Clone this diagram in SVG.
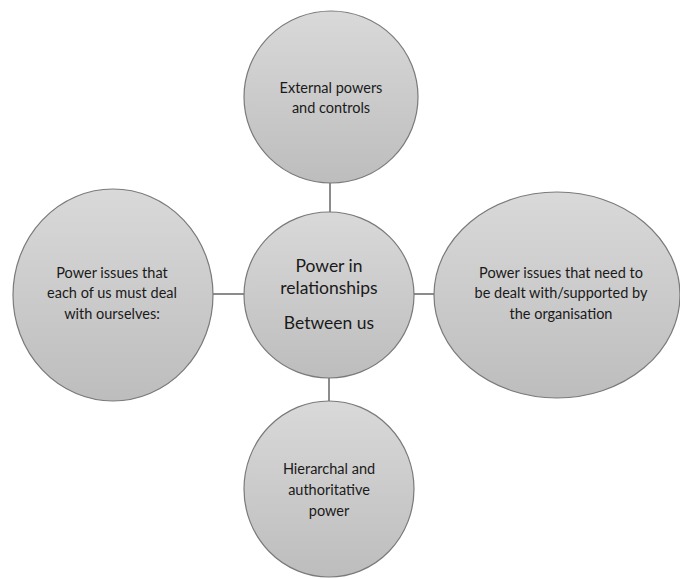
<svg xmlns="http://www.w3.org/2000/svg" width="680" height="579" viewBox="0 0 680 579">
<defs>
<linearGradient id="g" x1="0" y1="0" x2="0" y2="1">
<stop offset="0" stop-color="#d9d9d9"/>
<stop offset="1" stop-color="#bdbdbd"/>
</linearGradient>
<style>
.n{fill:url(#g);stroke:#7a7a7a;stroke-width:1.2}
.t{font-family:Lato,"Open Sans",sans-serif;font-size:14.5px;fill:#1a1a1a;text-anchor:middle}
.c{font-size:17.5px}
.l{stroke:#8c8c8c;stroke-width:2;fill:none}
</style>
</defs>
<rect width="680" height="579" fill="#fff"/>
<g id="connectors">
<line class="l" x1="330" y1="183" x2="330" y2="212"/>
<line class="l" x1="213" y1="294" x2="244" y2="294"/>
<line class="l" x1="414" y1="294" x2="434" y2="294"/>
<line class="l" x1="329" y1="377" x2="329" y2="401"/>
</g>
<g id="top">
<ellipse class="n" cx="331" cy="97" rx="87" ry="86"/>
<text class="t" x="331" y="93">External powers</text>
<text class="t" x="331" y="113">and controls</text>
</g>
<g id="center">
<ellipse class="n" cx="329" cy="295" rx="85" ry="83"/>
<text class="t c" x="329" y="272">Power in</text>
<text class="t c" x="329" y="294">relationships</text>
<text class="t c" x="329" y="329">Between us</text>
</g>
<g id="left">
<ellipse class="n" cx="113" cy="295" rx="100" ry="106"/>
<text class="t" x="112" y="278">Power issues that</text>
<text class="t" x="112" y="298">each of us must deal</text>
<text class="t" x="112" y="319">with ourselves:</text>
</g>
<g id="right">
<ellipse class="n" cx="557" cy="295" rx="123" ry="103"/>
<text class="t" x="561" y="278">Power issues that need to</text>
<text class="t" x="561" y="298">be dealt with/supported by</text>
<text class="t" x="561" y="319">the organisation</text>
</g>
<g id="bottom">
<ellipse class="n" cx="329" cy="489" rx="85" ry="88"/>
<text class="t" x="329" y="474">Hierarchal and</text>
<text class="t" x="329" y="495">authoritative</text>
<text class="t" x="329" y="516">power</text>
</g>
</svg>
